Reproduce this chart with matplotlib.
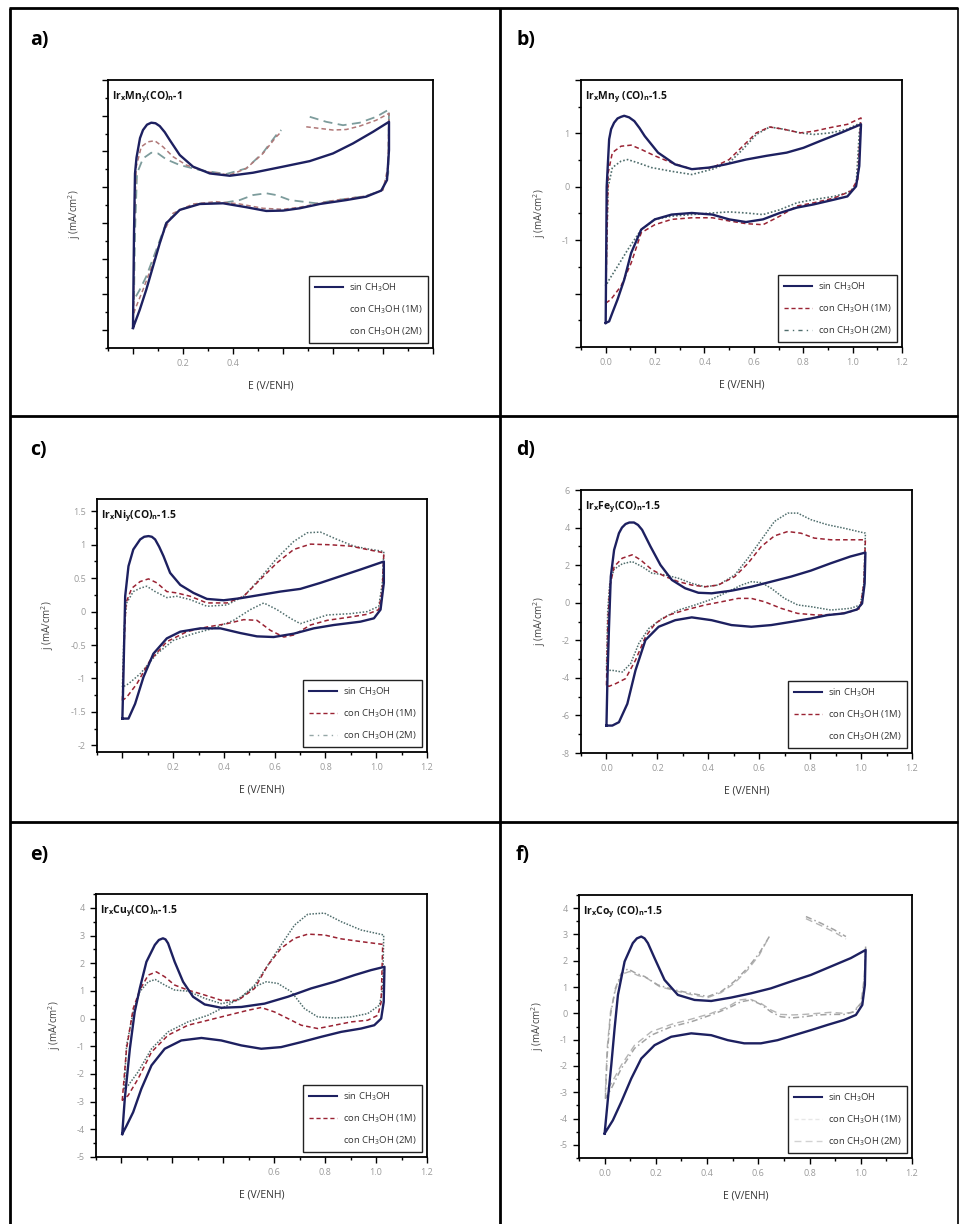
import numpy as np
import matplotlib
matplotlib.use("Agg")
import matplotlib.pyplot as plt
from matplotlib.lines import Line2D
from matplotlib.ticker import MultipleLocator, FixedLocator, FixedFormatter

plt.rcParams['font.family'] = ['Open Sans', 'DejaVu Sans']
plt.rcParams['mathtext.fontset'] = 'custom'
plt.rcParams['mathtext.rm'] = 'Open Sans'
plt.rcParams['mathtext.bf'] = 'Open Sans:bold'
plt.rcParams['mathtext.it'] = 'Open Sans:italic'

nan = np.nan

# ---------------------------------------------------------------------------
# Cyclic voltammograms: potential E (V vs ENH) and current density j (mA/cm2)
# each curve = anodic sweep followed by cathodic sweep
# ---------------------------------------------------------------------------

# a) IrxMny(CO)n-1
A_SIN_E = [0, .004, .008, .014, .028, .04, .056, .073, .09, .107, .127, .147, .187, .24, .307, .387, .48, .6, .707, .8, .88, .96, 1.024,
           1.024, 1.016, .993, .933, .853, .747, .667, .6, .533, .453, .36, .267, .187, .133, .107, .08, .053, .027, 0]
A_SIN_J = [-5.88, -.58, 2.77, 3.65, 4.75, 5.2, 5.5, 5.61, 5.58, 5.42, 5.08, 4.64, 3.8, 3.15, 2.77, 2.64, 2.81, 3.15, 3.46, 3.89, 4.45, 5.1, 5.66,
           4.08, 2.4, 1.81, 1.47, 1.28, 1.06, .82, .69, .67, .88, 1.1, 1.06, .73, -.02, -1.14, -2.44, -3.74, -4.86, -5.88]
A_M1_E = [.003, .004, .013, .033, .06, .087, .12, .16, .213, .293, .387, .453, .52, .573, .593, nan, .693, .747, .8, .853,
          .907, .973, 1.024, 1.02, 1.0, .933, .8, .667, .6, .52, .427, .333, .24, .16, .12, .08, .04, .013, .003]
A_M1_J = [-5.05, -.58, 3.15, 4.26, 4.54, 4.6, 4.26, 3.71, 3.24, 2.87, 2.68, 3.05, 3.89, 4.82, 5.1, nan, 5.38, 5.29, 5.2, 5.23,
          5.42, 5.75, 6.13, 3.15, 1.84, 1.51, 1.25, .88, .76, .82, 1.06, 1.19, 1.06, .54, -.58, -2.25, -3.74, -4.67, -5.05]
A_M2_E = [.004, .008, .016, .04, .073, .1, .133, .187, .267, .373, .453, .52, .573, .593, nan, .707, .773, .84, .907, .973,
          1.024, 1.021, .997, .933, .827, .733, .627, .573, .533, .48, .427, .36, .267, .187, .133, .093, .053, .027, .004]
A_M2_J = [-4.3, -.58, 2.77, 3.61, 3.93, 3.89, 3.56, 3.24, 2.96, 2.74, 3.05, 3.93, 4.92, 5.2, nan, 5.94, 5.66, 5.47, 5.61, 5.94,
          6.35, 2.77, 1.84, 1.51, 1.3, 1.1, 1.28, 1.56, 1.66, 1.56, 1.28, 1.12, 1.08, .74, .02, -1.51, -3.0, -3.74, -4.3]

# b) IrxMny(CO)n-1.5
B_SIN_E = [0, .004, .014, .022, .034, .048, .062, .075, .095, .116, .137, .158, .212, .281, .349, .418, .486, .568, .651, .733, .801, .870, .952, 1.034,
           1.027, 1.014, .979, .925, .842, .774, .705, .637, .568, .5, .432, .349, .267, .199, .144, .103, .075, .048, .027, .014, 0]
B_SIN_J = [-2.55, 0, .89, 1.08, 1.2, 1.28, 1.31, 1.33, 1.3, 1.23, 1.1, .95, .64, .42, .33, .36, .42, .51, .58, .64, .73, .86, 1.01, 1.17,
           .39, .01, -.18, -.24, -.33, -.39, -.49, -.61, -.66, -.61, -.52, -.49, -.52, -.61, -.8, -1.24, -1.74, -2.11, -2.36, -2.52, -2.55]
B_M1_E = [0, .01, .027, .062, .103, .144, .199, .267, .349, .432, .5, .555, .61, .664, .719, .788, .842, .911, .979, 1.034,
          1.032, 1.021, .993, .925, .842, .774, .705, .637, .568, .5, .432, .349, .267, .199, .144, .103, .062, .021, 0]
B_M1_J = [-2.18, .26, .64, .76, .78, .70, .58, .45, .33, .36, .51, .76, 1.01, 1.12, 1.08, 1.01, 1.04, 1.11, 1.17, 1.29,
          1.14, .14, -.08, -.21, -.3, -.36, -.55, -.71, -.69, -.64, -.58, -.58, -.61, -.71, -.86, -1.43, -1.86, -2.11, -2.18]
B_M2_E = [0, .01, .027, .062, .089, .13, .185, .267, .349, .432, .5, .555, .61, .664, .719, .788, .842, .911, .979, 1.034,
          1.027, 1.014, .979, .925, .842, .774, .705, .637, .568, .5, .432, .349, .267, .199, .144, .089, .048, .014, 0]
B_M2_J = [-1.86, 0, .36, .48, .51, .45, .36, .29, .23, .33, .45, .70, .98, 1.12, 1.08, 1.01, .98, 1.01, 1.08, 1.2,
          1.01, .01, -.11, -.18, -.24, -.3, -.43, -.52, -.49, -.47, -.49, -.52, -.55, -.61, -.8, -1.18, -1.49, -1.74, -1.86]

# c) IrxNiy(CO)n-1.5
C_SIN_E = [0, .004, .011, .024, .043, .070, .086, .103, .116, .129, .145, .162, .188, .228, .28, .333, .399, .464, .543, .622, .701, .78, .859,
           .938, 1.03, 1.03, 1.017, .991, .938, .833, .754, .675, .596, .53, .464, .386, .307, .228, .175, .122, .083, .05, .024, 0]
C_SIN_J = [-1.6, -.98, .23, .68, .93, 1.08, 1.12, 1.13, 1.12, 1.08, .97, .83, .58, .40, .28, .19, .17, .20, .25, .30, .34, .43, .53,
           .63, .75, .43, .03, -.1, -.15, -.2, -.25, -.33, -.38, -.37, -.32, -.25, -.25, -.3, -.4, -.63, -.98, -1.38, -1.6, -1.6]
C_M1_E = [0, .007, .014, .037, .07, .103, .136, .175, .214, .267, .333, .412, .478, .543, .609, .675, .741, .82, .899, .964,
          1.03, 1.024, 1.01, .964, .899, .807, .741, .675, .636, .583, .53, .478, .412, .333, .254, .175, .109, .057, .017, 0]
C_M1_J = [-1.33, -.48, .13, .35, .45, .49, .43, .30, .28, .23, .13, .13, .23, .48, .73, .93, 1.01, 1.0, .98, .93,
          .88, .33, .03, -.04, -.08, -.13, -.2, -.35, -.38, -.28, -.13, -.12, -.18, -.23, -.3, -.45, -.73, -1.08, -1.28, -1.33]
C_M2_E = [0, .007, .017, .043, .07, .096, .129, .175, .214, .267, .333, .412, .478, .543, .609, .675, .728, .78, .846, .912,
          .964, 1.03, 1.024, 1.01, .964, .899, .807, .741, .701, .662, .609, .557, .504, .438, .359, .28, .201, .136, .07, .024, 0]
C_M2_J = [-1.13, -.23, .13, .30, .35, .38, .30, .21, .23, .18, .08, .10, .23, .50, .80, 1.05, 1.18, 1.19, 1.08, .98,
          .94, .90, .43, .08, 0, -.03, -.05, -.13, -.18, -.1, .03, .13, .03, -.13, -.25, -.33, -.43, -.63, -.93, -1.08, -1.13]

# d) IrxFey(CO)n-1.5
D_SIN_E = [0, .004, .01, .017, .03, .049, .061, .075, .09, .108, .124, .14, .173, .212, .257, .309, .361, .413, .491, .569, .647, .725, .803,
           .881, .958, 1.017, 1.014, 1.004, .984, .932, .868, .803, .725, .647, .569, .491, .413, .335, .27, .205, .153, .114, .082,
           .049, .023, 0]
D_SIN_J = [-6.54, -3.95, -1.28, 1.39, 2.81, 3.7, 4.0, 4.19, 4.27, 4.27, 4.14, 3.88, 2.99, 2.01, 1.21, .77, .53, .5, .64, .85, 1.12, 1.39, 1.71,
           2.1, 2.46, 2.67, 1.03, -.04, -.36, -.57, -.66, -.84, -1.02, -1.19, -1.28, -1.19, -.93, -.78, -.93, -1.28, -1.99, -3.6, -5.38,
           -6.36, -6.54, -6.54]
D_M1_E = [0, .005, .013, .03, .062, .101, .134, .179, .231, .283, .335, .387, .439, .504, .556, .608, .66, .712, .764, .816,
          .881, .958, 1.017, 1.011, .997, .958, .906, .829, .751, .686, .621, .569, .517, .452, .387, .309, .244, .192, .153, .114,
          .075, .036, .01, 0]
D_M1_J = [-4.4, -1.28, .85, 1.92, 2.37, 2.55, 2.28, 1.75, 1.39, 1.12, .94, .85, .94, 1.39, 2.1, 2.99, 3.56, 3.79, 3.7, 3.44,
          3.35, 3.35, 3.35, 1.03, -.3, -.48, -.61, -.66, -.57, -.3, .05, .23, .23, .05, -.12, -.39, -.66, -1.1, -1.82, -3.06,
          -4.04, -4.31, -4.45, -4.4]
D_M2_E = [0, .005, .013, .03, .062, .101, .14, .179, .231, .283, .335, .387, .439, .504, .556, .608, .66, .712, .751, .803,
          .868, .932, 1.017, 1.011, .997, .958, .881, .803, .751, .699, .647, .608, .569, .53, .478, .413, .348, .283, .218, .166,
          .127, .095, .062, .023, 0]
D_M2_J = [-3.6, -.39, 1.03, 1.78, 2.07, 2.19, 1.92, 1.57, 1.48, 1.3, 1.03, .85, .94, 1.48, 2.37, 3.35, 4.33, 4.77, 4.77, 4.42,
          4.15, 3.97, 3.7, 1.03, -.12, -.3, -.39, -.21, -.12, .23, .77, 1.07, 1.12, .94, .59, .18, -.12, -.39, -.84, -1.37,
          -2.17, -3.24, -3.69, -3.6, -3.6]

# e) IrxCuy(CO)n-1.5
E_SIN_E = [.003, .013, .033, .052, .072, .098, .131, .147, .163, .173, .183, .209, .242, .281, .327, .392, .471, .562, .654, .745, .837, .915,
           .98, 1.033, 1.03, 1.02, .993, .941, .863, .784, .706, .627, .549, .471, .392, .314, .235, .17, .118, .078, .046, .02, .003]
E_SIN_J = [-4.17, -2.9, -1.09, .24, 1.09, 2.05, 2.66, 2.84, 2.9, 2.86, 2.72, 2.05, 1.33, .79, .51, .39, .42, .54, .79, 1.09, 1.33, 1.57,
           1.75, 1.87, .6, 0, -.24, -.36, -.48, -.66, -.85, -1.03, -1.09, -.97, -.79, -.7, -.79, -1.09, -1.69, -2.54, -3.38, -3.87, -4.17]
E_M1_E = [.003, .02, .046, .072, .105, .137, .17, .209, .261, .327, .392, .458, .523, .575, .627, .68, .732, .797, .863, .941,
          1.026, 1.02, 1.007, .967, .902, .837, .771, .706, .654, .601, .549, .497, .418, .34, .261, .183, .118, .065, .026, .003]
E_M1_J = [-2.96, -1.09, .36, 1.03, 1.57, 1.69, 1.51, 1.21, 1.03, .85, .66, .66, 1.09, 1.93, 2.54, 2.9, 3.05, 3.02, 2.88, 2.78,
          2.68, .6, .12, -.06, -.12, -.24, -.36, -.24, 0, .24, .4, .3, .12, -.06, -.24, -.6, -1.21, -2.18, -2.78, -2.96]
E_M2_E = [.01, .02, .046, .072, .105, .133, .17, .209, .261, .327, .392, .458, .523, .575, .627, .68, .732, .797, .863, .941,
          1.03, 1.026, 1.013, .967, .902, .837, .771, .719, .667, .614, .569, .523, .471, .418, .34, .261, .183, .118, .065, .026, .01]
E_M2_J = [-2.54, -.97, .24, .97, 1.33, 1.41, 1.21, 1.03, .99, .73, .54, .66, 1.21, 1.93, 2.66, 3.38, 3.77, 3.81, 3.5, 3.2,
          3.02, 1.09, .48, .18, .06, .02, .06, .36, .97, 1.27, 1.33, 1.15, .79, .48, .12, -.12, -.48, -1.09, -1.93, -2.42, -2.54]

# f) IrxCoy(CO)n-1.5
F_SIN_E = [0, .013, .026, .039, .052, .078, .11, .126, .143, .156, .169, .195, .234, .286, .351, .416, .494, .571, .649, .727, .805, .883,
           .961, 1.019, 1.016, 1.006, .981, .935, .87, .805, .74, .675, .61, .545, .481, .416, .338, .26, .195, .143, .104, .065,
           .032, 0]
F_SIN_J = [-4.57, -3.24, -1.97, -.57, .7, 1.97, 2.67, 2.85, 2.92, 2.85, 2.67, 2.1, 1.27, .7, .51, .47, .6, .76, .95, 1.21, 1.46, 1.78,
           2.1, 2.41, 1.08, .32, -.06, -.25, -.44, -.64, -.83, -1.02, -1.14, -1.14, -1.02, -.83, -.76, -.89, -1.21, -1.72, -2.48, -3.37,
           -4.07, -4.57]
F_M1_E = [.003, .01, .023, .042, .065, .091, .123, .156, .208, .273, .338, .403, .455, .506, .558, .604, .643, nan, .786, .844,
          .896, .942, nan, 1.019, 1.016, 1.006, .974, .935, .883, .831, .779, .734, .688, .649, .61, .571, .532, .481, .416, .338,
          .26, .182, .117, .065, .026, .003]
F_M1_J = [-3.24, -1.59, -.06, .95, 1.52, 1.69, 1.52, 1.4, 1.08, .89, .76, .64, .83, 1.21, 1.72, 2.29, 2.92, nan, 3.68, 3.43,
          3.18, 2.92, nan, 2.54, 1.46, .44, .06, -.04, -.04, -.06, -.13, -.17, -.13, .06, .34, .51, .44, .19, -.06, -.32,
          -.51, -.83, -1.33, -2.1, -2.86, -3.24]
F_M2_E = [.003, .01, .023, .042, .068, .097, .13, .162, .214, .279, .344, .403, .455, .506, .558, .604, .636, nan, .786, .844,
          .896, .942, nan, 1.019, 1.013, 1.0, .968, .935, .883, .831, .779, .734, .688, .649, .61, .565, .526, .481, .416, .338,
          .26, .182, .117, .065, .026, .003]
F_M2_J = [-2.99, -1.33, .06, .89, 1.49, 1.59, 1.44, 1.36, 1.02, .85, .7, .6, .79, 1.14, 1.65, 2.22, 2.8, nan, 3.6, 3.34,
          3.09, 2.83, nan, 2.48, 1.33, .38, .04, 0, .04, 0, -.04, -.06, -.04, .13, .38, .55, .51, .25, 0, -.22,
          -.42, -.7, -1.21, -1.97, -2.67, -2.99]

LEGEND_LABELS = ["sin CH$_3$OH", "con CH$_3$OH (1M)", "con CH$_3$OH (2M)"]
E_TICKS = [0.0, 0.2, 0.4, 0.6, 0.8, 1.0, 1.2]

NAVY = '#1d2060'
RED = '#9a2333'
TEAL = '#4f6d6c'

W, H = 959, 1224
fig = plt.figure(figsize=(W / 100, H / 100), dpi=100)


def box(x0, y0, x1, y1):
    return [x0 / W, 1 - y1 / H, (x1 - x0) / W, (y1 - y0) / H]


panels = [
    dict(letter='a)', lpos=(30, 40), rect=box(108, 80, 433, 348),
         title=r"Ir$_\mathbf{x}$Mn$_\mathbf{y}$(CO)$_\mathbf{n}$-1",
         sin=(A_SIN_E, A_SIN_J), m1=(A_M1_E, A_M1_J), m2=(A_M2_E, A_M2_J),
         c1='#b07878', c2='#7d9c9c', ls1=(0, (3, 2)), ls2=(0, (5, 3)), lw2=1.3,
         ylim=(-7, 8), yticks=[-6, -4, -2, 0, 2, 4, 6, 8], ylabels=['', '', '', '', '', '', '', ''], yminor=1,
         xlabels=['', '0.2', '0.4', '', '', '', ''], leg_alpha=(1, 0, 0)),
    dict(letter='b)', lpos=(516, 40), rect=box(581, 80, 902, 347),
         title=r"Ir$_\mathbf{x}$Mn$_\mathbf{y}$ (CO)$_\mathbf{n}$-1.5",
         sin=(B_SIN_E, B_SIN_J), m1=(B_M1_E, B_M1_J), m2=(B_M2_E, B_M2_J),
         c1=RED, c2=TEAL, ls1=(0, (3, 2)), ls2=(0, (1, 1.2)), lw2=1.2,
         ylim=(-3, 2), yticks=[-3, -2, -1, 0, 1, 2], ylabels=['', '', '-1', '0', '1', ''], yminor=0.5,
         xlabels=['0.0', '0.2', '0.4', '0.6', '0.8', '1.0', '1.2'], leg_alpha=(1, 1, 1),
         leg2_ls=(0, (3, 3, 1, 3))),
    dict(letter='c)', lpos=(30, 450), rect=box(97, 499, 427, 752),
         title=r"Ir$_\mathbf{x}$Ni$_\mathbf{y}$(CO)$_\mathbf{n}$-1.5",
         sin=(C_SIN_E, C_SIN_J), m1=(C_M1_E, C_M1_J), m2=(C_M2_E, C_M2_J),
         c1=RED, c2=TEAL, ls1=(0, (3, 2)), ls2=(0, (1, 1.2)), lw2=1.1,
         ylim=(-2.1, 1.685), yticks=[-2, -1.5, -1, -0.5, 0, 0.5, 1, 1.5],
         ylabels=['-2', '-1.5', '-1', '-0.5', '0', '0.5', '1', '1.5'], yminor=0.25,
         xlabels=['', '0.2', '0.4', '0.6', '0.8', '1.0', '1.2'], leg_alpha=(1, 1, 0.6),
         leg2_ls=(0, (3, 3, 1, 3))),
    dict(letter='d)', lpos=(516, 450), rect=box(581, 490, 912, 753),
         title=r"Ir$_\mathbf{x}$Fe$_\mathbf{y}$(CO)$_\mathbf{n}$-1.5",
         sin=(D_SIN_E, D_SIN_J), m1=(D_M1_E, D_M1_J), m2=(D_M2_E, D_M2_J),
         c1=RED, c2=TEAL, ls1=(0, (3, 2)), ls2=(0, (1, 1)), lw2=1.1,
         ylim=(-8, 6), yticks=[-8, -6, -4, -2, 0, 2, 4, 6], ylabels=['-8', '-6', '-4', '-2', '0', '2', '4', '6'], yminor=1,
         xlabels=['0.0', '0.2', '0.4', '0.6', '0.8', '1.0', '1.2'], leg_alpha=(1, 1, 0)),
    dict(letter='e)', lpos=(30, 855), rect=box(96, 894, 427, 1157),
         title=r"Ir$_\mathbf{x}$Cu$_\mathbf{y}$(CO)$_\mathbf{n}$-1.5",
         sin=(E_SIN_E, E_SIN_J), m1=(E_M1_E, E_M1_J), m2=(E_M2_E, E_M2_J),
         c1=RED, c2=TEAL, ls1=(0, (3, 2)), ls2=(0, (1, 1)), lw2=1.1,
         ylim=(-5, 4.5), yticks=[-5, -4, -3, -2, -1, 0, 1, 2, 3, 4],
         ylabels=['-5', '-4', '-3', '-2', '-1', '0', '1', '2', '3', '4'], yminor=0.5,
         xlabels=['', '', '', '0.6', '0.8', '1.0', '1.2'], leg_alpha=(1, 1, 0)),
    dict(letter='f)', lpos=(516, 855), rect=box(579, 895, 912, 1158),
         title=r"Ir$_\mathbf{x}$Co$_\mathbf{y}$ (CO)$_\mathbf{n}$-1.5",
         sin=(F_SIN_E, F_SIN_J), m1=(F_M1_E, F_M1_J), m2=(F_M2_E, F_M2_J),
         c1='#a3a3a3', c2='#b5b5b5', ls1=(0, (4, 2, 1, 2)), ls2=(0, (5, 3)), lw2=1.0,
         ylim=(-5.5, 4.5), yticks=[-5, -4, -3, -2, -1, 0, 1, 2, 3, 4],
         ylabels=['-5', '-4', '-3', '-2', '-1', '0', '1', '2', '3', '4'], yminor=0.5,
         xlabels=['0.0', '0.2', '0.4', '0.6', '0.8', '1.0', '1.2'], leg_alpha=(1, 0.25, 0.6)),
]

for p in panels:
    ax = fig.add_axes(p['rect'])
    ax.plot(*p['m2'], color=p['c2'], lw=p['lw2'], ls=p['ls2'], zorder=2)
    ax.plot(*p['m1'], color=p['c1'], lw=1.1, ls=p['ls1'], zorder=2.5)
    ax.plot(*p['sin'], color=NAVY, lw=1.7, solid_joinstyle='round', zorder=3)

    ax.set_xlim(-0.1, 1.2)
    ax.set_ylim(*p['ylim'])
    ax.xaxis.set_major_locator(FixedLocator(E_TICKS))
    ax.xaxis.set_major_formatter(FixedFormatter(p['xlabels']))
    ax.xaxis.set_minor_locator(MultipleLocator(0.1))
    ax.yaxis.set_major_locator(FixedLocator(p['yticks']))
    ax.yaxis.set_major_formatter(FixedFormatter(p['ylabels']))
    ax.yaxis.set_minor_locator(MultipleLocator(p['yminor']))
    ax.tick_params(which='both', direction='out', colors='black', labelcolor='#9a9a9a',
                   labelsize=6.5, width=1.0, top=False, right=False)
    ax.tick_params(which='major', length=4.5)
    ax.tick_params(which='minor', length=2.5)
    for s in ax.spines.values():
        s.set_linewidth(1.3)

    ax.set_xlabel("E (V/ENH)", fontsize=7.5, color='#333333', labelpad=9)
    ax.set_ylabel("j (mA/cm$^2$)", fontsize=7, color='#444444', labelpad=10)
    ax.text(0.012, 0.965, p['title'], transform=ax.transAxes, ha='left', va='top',
            fontsize=7.5, fontweight='bold', color='#111111', zorder=5)

    la = p['leg_alpha']
    handles = [
        Line2D([], [], color=NAVY, lw=1.5, alpha=la[0]),
        Line2D([], [], color=p['c1'] if p['c1'] != '#b07878' else RED, lw=1.0,
               ls=(0, (3, 2)), alpha=la[1]),
        Line2D([], [], color=p['c2'], lw=1.0, ls=p.get('leg2_ls', p['ls2']), alpha=la[2]),
    ]
    leg = ax.legend(handles, LEGEND_LABELS, loc='lower right', fontsize=6.8, frameon=True,
                    fancybox=False, edgecolor='#222222', framealpha=1, handlelength=3.0,
                    handletextpad=0.6, labelspacing=1.0, borderpad=0.6, borderaxespad=0.5)
    leg.get_frame().set_linewidth(1.0)
    for t in leg.get_texts():
        t.set_color('#333333')

    fig.text(p['lpos'][0] / W, 1 - p['lpos'][1] / H, p['letter'], fontsize=14,
             fontweight='bold', ha='left', va='center')

# panel frame
def seg(x0, y0, x1, y1, lw=2.0):
    fig.add_artist(Line2D([x0 / W, x1 / W], [1 - y0 / H, 1 - y1 / H], color='black',
                          lw=lw, transform=fig.transFigure, solid_capstyle='butt'))

seg(9, 8, 958, 8)
seg(10, 8, 10, H)
seg(957.5, 8, 957.5, H, lw=1.2)
seg(499.5, 8, 499.5, H)
seg(10, 416, 958, 416)
seg(10, 822, 958, 822)

fig.savefig("out.png", dpi=100, facecolor='white')
